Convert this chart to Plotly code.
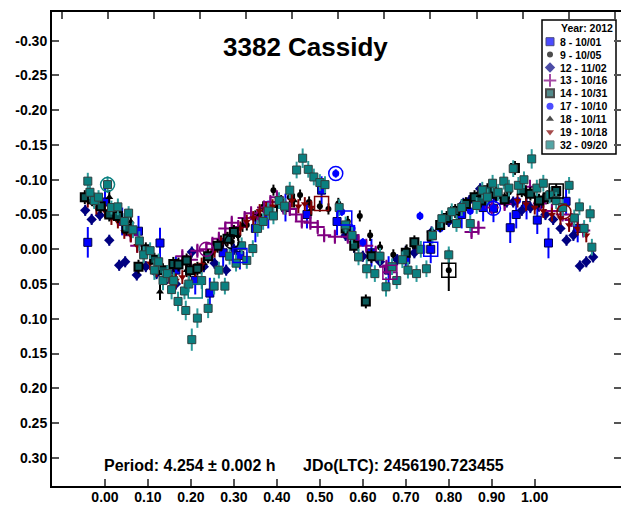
import plotly.graph_objects as go

# ---------------- DATA ----------------
title_text = "3382 Cassidy"
period_text = "Period: 4.254 ± 0.002 h"
epoch_text = "JDo(LTC): 2456190.723455"
legend_title = "Year: 2012"

xtick_vals = [0.0, 0.1, 0.2, 0.3, 0.4, 0.5, 0.6, 0.7, 0.8, 0.9, 1.0]
xtick_text = ["0.00", "0.10", "0.20", "0.30", "0.40", "0.50", "0.60", "0.70", "0.80", "0.90", "1.00"]
ytick_vals = [-0.30, -0.25, -0.20, -0.15, -0.10, -0.05, 0.0, 0.05, 0.10, 0.15, 0.20, 0.25, 0.30]
ytick_text = ["-0.30", "-0.25", "-0.20", "-0.15", "-0.10", "-0.05", "0.00", "0.05", "0.10", "0.15", "0.20", "0.25", "0.30"]

series_names = ["8 - 10/01", "9 - 10/05", "12 - 11/02", "13 - 10/16", "14 - 10/31",
                "17 - 10/10", "18 - 10/11", "19 - 10/18", "32 - 09/20"]

# session 8 (blue squares)
s8_phase = [-0.040, 0.000, 0.040, 0.078, 0.128, 0.165, 0.210, 0.244, 0.275, 0.314, 0.350, 0.380, 0.420,
            0.470, 0.504, 0.540, 0.580, 0.620, 0.660, 0.700, 0.758, 0.830, 0.880, 0.904, 0.943, 0.957,
            0.981, 1.006, 1.032, 1.073, 1.100]
s8_mag = [-0.010, -0.068, -0.040, -0.026, -0.009, 0.030, 0.045, 0.063, 0.005, 0.009, -0.030, -0.050, -0.060,
          -0.050, -0.085, -0.040, -0.015, 0.005, 0.030, 0.015, 0.000, -0.050, -0.060, -0.059, -0.031, -0.050,
          -0.063, -0.042, -0.009, -0.069, -0.030]
s8_err = [0.022, 0.020, 0.020, 0.022, 0.022, 0.020, 0.020, 0.022, 0.020, 0.020, 0.020, 0.020, 0.020,
          0.020, 0.020, 0.020, 0.020, 0.020, 0.020, 0.020, 0.020, 0.020, 0.020, 0.020, 0.022, 0.020,
          0.020, 0.020, 0.022, 0.020, 0.020]

# session 9 (black dots)
s9_phase = [0.250, 0.270, 0.295, 0.310, 0.330, 0.350, 0.368, 0.392, 0.410, 0.430, 0.454, 0.475, 0.500,
            0.520, 0.543, 0.565, 0.593, 0.617, 0.640, 0.671, 0.702, 0.721, 0.756, 0.800, 0.830, 0.870,
            0.900, 0.940, 0.980, 1.020]
s9_mag = [0.005, -0.005, -0.011, -0.020, -0.035, -0.048, -0.061, -0.085, -0.070, -0.075, -0.078, -0.068, -0.062,
          -0.058, -0.066, -0.040, -0.048, -0.020, -0.003, 0.008, 0.001, -0.003, -0.013, 0.030, -0.060, -0.080,
          -0.085, -0.082, -0.080, -0.070]
s9_err = [0.008, 0.008, 0.008, 0.008, 0.008, 0.008, 0.008, 0.008, 0.008, 0.008, 0.008, 0.008, 0.008,
          0.008, 0.008, 0.008, 0.008, 0.008, 0.008, 0.008, 0.008, 0.008, 0.008, 0.030, 0.010, 0.010,
          0.010, 0.010, 0.010, 0.010]

# session 12 (navy diamonds)
s12_phase = [-0.046, -0.031, -0.012, 0.010, 0.033, 0.047, 0.074, 0.095, 0.120, 0.145, 0.165, 0.202, 0.230,
             0.255, 0.282, 0.300, 0.560, 0.600, 0.640, 0.680, 0.720, 0.760, 0.800, 0.834, 0.848, 0.873,
             0.890, 0.910, 0.935, 0.950, 0.970, 0.990, 1.010, 1.025, 1.043, 1.060, 1.074, 1.090, 1.105,
             1.120, 1.136]
s12_mag = [-0.056, -0.043, -0.049, -0.013, 0.023, 0.018, 0.037, 0.025, 0.035, 0.042, 0.050, 0.004, 0.025,
           0.020, 0.030, 0.000, -0.020, 0.010, 0.018, 0.015, 0.005, -0.025, -0.040, -0.066, -0.070, -0.087,
           -0.070, -0.075, -0.068, -0.068, -0.056, -0.060, -0.062, -0.050, -0.043, -0.030, -0.013, -0.020, 0.024,
           0.018, 0.011]
s12_err = [0.008, 0.008, 0.008, 0.008, 0.008, 0.008, 0.008, 0.008, 0.008, 0.008, 0.008, 0.008, 0.008,
           0.008, 0.008, 0.008, 0.008, 0.008, 0.008, 0.008, 0.008, 0.008, 0.008, 0.008, 0.008, 0.008,
           0.008, 0.008, 0.008, 0.008, 0.008, 0.008, 0.008, 0.008, 0.008, 0.008, 0.008, 0.008, 0.008,
           0.008, 0.008]

# session 13 (purple crosses)
s13_phase = [0.030, 0.045, 0.060, 0.075, 0.180, 0.200, 0.215, 0.236, 0.250, 0.265, 0.280, 0.295, 0.310,
             0.325, 0.340, 0.355, 0.370, 0.385, 0.400, 0.415, 0.430, 0.445, 0.458, 0.478, 0.495, 0.510,
             0.535, 0.565, 0.590, 0.608, 0.630, 0.655, 0.663, 0.853, 0.869, 0.900, 0.930, 0.989, 1.012,
             1.040, 1.065, 1.086, 1.113]
s13_mag = [-0.045, -0.035, -0.020, -0.005, 0.010, 0.015, 0.002, 0.000, -0.008, -0.015, -0.030, -0.038, -0.032,
           -0.045, -0.052, -0.048, -0.060, -0.068, -0.075, -0.060, -0.058, -0.050, -0.040, -0.038, -0.032, -0.020,
           -0.018, -0.018, -0.012, -0.005, 0.005, 0.025, 0.033, -0.025, -0.031, -0.060, -0.065, -0.090, -0.066,
           -0.055, -0.050, -0.042, -0.027]
s13_err = [0.008, 0.008, 0.008, 0.008, 0.008, 0.008, 0.008, 0.008, 0.008, 0.008, 0.008, 0.008, 0.008,
           0.008, 0.008, 0.008, 0.008, 0.008, 0.008, 0.008, 0.008, 0.008, 0.008, 0.008, 0.008, 0.008,
           0.008, 0.008, 0.008, 0.008, 0.008, 0.008, 0.008, 0.008, 0.008, 0.008, 0.008, 0.008, 0.008,
           0.008, 0.008, 0.008, 0.008]

# session 14 (black-edged squares)
s14_phase = [-0.047, -0.030, -0.010, 0.010, 0.030, 0.050, 0.078, 0.095, 0.115, 0.135, 0.159, 0.171, 0.190,
             0.198, 0.215, 0.240, 0.262, 0.285, 0.300, 0.560, 0.580, 0.607, 0.620, 0.700, 0.720, 0.760,
             0.780, 0.795, 0.815, 0.840, 0.860, 0.875, 0.890, 0.910, 0.930, 0.954, 0.970, 0.990, 1.010,
             1.030, 1.050]
s14_mag = [-0.075, -0.072, -0.062, -0.050, -0.048, -0.030, 0.025, 0.000, 0.015, 0.030, 0.021, 0.022, 0.016,
           0.030, 0.028, 0.010, -0.005, -0.015, -0.025, -0.030, -0.005, 0.075, 0.010, 0.005, -0.010, -0.020,
           -0.035, -0.045, -0.055, -0.065, -0.075, -0.070, -0.085, -0.080, -0.072, -0.117, -0.085, -0.080, -0.070,
           -0.075, -0.084]
s14_err = [0.010, 0.010, 0.010, 0.010, 0.010, 0.010, 0.010, 0.010, 0.010, 0.010, 0.010, 0.010, 0.010,
           0.010, 0.010, 0.010, 0.010, 0.010, 0.010, 0.010, 0.010, 0.010, 0.010, 0.010, 0.010, 0.010,
           0.010, 0.010, 0.010, 0.010, 0.010, 0.010, 0.010, 0.010, 0.010, 0.010, 0.010, 0.010, 0.010,
           0.010, 0.010]

# session 17 (blue dots)
s17_phase = [0.537, 0.551, 0.575, 0.600, 0.640, 0.733, 0.780, 0.850, 0.904, 0.960]
s17_mag = [-0.109, -0.054, -0.030, -0.010, 0.010, -0.048, -0.030, -0.055, -0.059, -0.070]
s17_err = [0.006, 0.006, 0.006, 0.006, 0.006, 0.006, 0.006, 0.006, 0.006, 0.006]

# session 18 (black triangles)
s18_phase = [0.010, 0.060, 0.128, 0.160, 0.190, 0.230, 0.270, 0.320, 0.360, 0.400, 0.440, 0.480]
s18_mag = [-0.075, -0.040, 0.061, 0.040, 0.030, 0.020, -0.010, -0.035, -0.050, -0.062, -0.070, -0.058]
s18_err = [0.010, 0.010, 0.012, 0.010, 0.010, 0.010, 0.010, 0.010, 0.010, 0.010, 0.010, 0.010]

# session 19 (dark red triangles)
s19_phase = [-0.040, -0.020, 0.000, 0.015, 0.030, 0.045, 0.060, 0.075, 0.090, 0.105, 0.120, 0.135, 0.150,
             0.165, 0.180, 0.195, 0.210, 0.225, 0.240, 0.255, 0.270, 0.285, 0.300, 0.315, 0.330, 0.345,
             0.360, 0.375, 0.390, 0.405, 0.420, 0.435, 0.450, 0.465, 0.480, 0.960, 0.980, 1.000, 1.020,
             1.040, 1.060, 1.080, 1.100, 1.120]
s19_mag = [-0.070, -0.060, -0.055, -0.045, -0.040, -0.025, -0.020, -0.005, 0.010, 0.020, 0.030, 0.035, 0.040,
           0.045, 0.040, 0.035, 0.030, 0.022, 0.010, 0.002, -0.008, -0.015, -0.025, -0.030, -0.040, -0.045,
           -0.055, -0.058, -0.062, -0.068, -0.060, -0.070, -0.062, -0.065, -0.060, -0.070, -0.065, -0.060, -0.055,
           -0.050, -0.045, -0.035, -0.030, -0.020]
s19_err = [0.010, 0.010, 0.010, 0.010, 0.010, 0.010, 0.010, 0.010, 0.010, 0.010, 0.010, 0.010, 0.010,
           0.010, 0.010, 0.010, 0.010, 0.010, 0.010, 0.010, 0.010, 0.010, 0.010, 0.010, 0.010, 0.010,
           0.010, 0.010, 0.010, 0.010, 0.010, 0.010, 0.010, 0.010, 0.010, 0.010, 0.010, 0.010, 0.010,
           0.010, 0.010, 0.010, 0.010, 0.010]

# session 32 (teal squares)
s32_phase = [-0.040, -0.035, -0.025, -0.015, 0.006, 0.015, 0.030, 0.045, 0.055, 0.065, 0.080, 0.090, 0.105,
             0.115, 0.125, 0.135, 0.145, 0.155, 0.160, 0.170, 0.185, 0.188, 0.195, 0.202, 0.215, 0.225,
             0.240, 0.254, 0.265, 0.279, 0.290, 0.305, 0.318, 0.330, 0.344, 0.355, 0.368, 0.380, 0.392,
             0.405, 0.418, 0.430, 0.446, 0.460, 0.473, 0.486, 0.500, 0.512, 0.545, 0.560, 0.575, 0.590,
             0.609, 0.628, 0.640, 0.654, 0.668, 0.679, 0.692, 0.705, 0.725, 0.735, 0.748, 0.762, 0.784,
             0.800, 0.807, 0.818, 0.830, 0.850, 0.865, 0.878, 0.890, 0.902, 0.915, 0.928, 0.940, 0.950,
             0.962, 0.975, 0.993, 1.005, 1.020, 1.035, 1.050, 1.065, 1.080, 1.092, 1.104, 1.115, 1.129,
             1.133]
s32_mag = [-0.098, -0.082, -0.070, -0.075, -0.093, -0.060, -0.061, -0.040, -0.052, -0.028, -0.012, 0.008, 0.002,
           0.030, 0.018, 0.045, 0.035, 0.058, 0.045, 0.075, 0.060, 0.088, 0.050, 0.130, 0.099, 0.045,
           0.085, 0.053, 0.030, 0.053, 0.010, 0.020, -0.005, 0.016, -0.001, -0.030, -0.040, -0.055, -0.048,
           -0.070, -0.062, -0.085, -0.114, -0.131, -0.115, -0.104, -0.096, -0.093, -0.060, -0.035, -0.020, 0.011,
           0.028, 0.035, 0.010, 0.054, 0.025, 0.045, 0.015, 0.030, 0.035, 0.000, 0.028, -0.020, -0.044,
           0.008, -0.054, -0.037, -0.060, -0.037, -0.063, -0.085, -0.075, -0.095, -0.082, -0.098, -0.088, -0.116,
           -0.092, -0.100, -0.130, -0.088, -0.095, -0.078, -0.070, -0.060, -0.092, -0.045, -0.061, -0.030, -0.051,
           -0.003]
s32_err = [0.012, 0.010, 0.012, 0.010, 0.012, 0.010, 0.012, 0.012, 0.010, 0.012, 0.014, 0.012, 0.012,
           0.014, 0.012, 0.014, 0.012, 0.014, 0.012, 0.014, 0.012, 0.014, 0.012, 0.016, 0.014, 0.012,
           0.014, 0.012, 0.012, 0.012, 0.012, 0.012, 0.012, 0.012, 0.012, 0.012, 0.012, 0.012, 0.012,
           0.012, 0.012, 0.012, 0.012, 0.014, 0.012, 0.012, 0.012, 0.012, 0.012, 0.012, 0.012, 0.012,
           0.014, 0.012, 0.012, 0.014, 0.012, 0.012, 0.012, 0.012, 0.012, 0.012, 0.012, 0.012, 0.012,
           0.012, 0.012, 0.012, 0.012, 0.012, 0.012, 0.012, 0.012, 0.012, 0.012, 0.012, 0.012, 0.012,
           0.012, 0.012, 0.014, 0.012, 0.012, 0.012, 0.012, 0.012, 0.012, 0.012, 0.012, 0.012, 0.012,
           0.012]

# first / last point markers of sessions
ring_phase = [0.006, 0.236, 0.295, 0.537, 0.904, 1.068]
ring_mag = [-0.093, 0.000, -0.011, -0.109, -0.059, -0.054]
box_phase = [0.210, 0.314, 0.504, 0.558, 0.663, 0.758, 0.800, 1.050]
box_mag = [0.060, 0.009, -0.066, -0.045, 0.033, 0.000, 0.030, -0.084]

# ---------------- STYLE ----------------
FONT = "Liberation Sans, Arial, sans-serif"
TEAL = "#0b8080"
styles = {
    "8": dict(symbol="square", color="#0000ff", line="#00004a", lw=1, size=8, ecol="#0000ff"),
    "9": dict(symbol="circle", color="#000000", line="#000000", lw=0, size=6, ecol="#000000"),
    "12": dict(symbol="diamond", color="#000080", line="#000050", lw=0, size=8, ecol="#000080"),
    "13": dict(symbol="cross-thin", color="#800080", line="#800080", lw=2, size=10, ecol="#800080"),
    "14": dict(symbol="square", color="#0a5a5a", line="#000000", lw=2, size=8, ecol="#000000"),
    "17": dict(symbol="circle", color="#0000ff", line="#0000ff", lw=0, size=7, ecol="#0000ff"),
    "18": dict(symbol="triangle-up", color="#000000", line="#000000", lw=0, size=7, ecol="#000000"),
    "19": dict(symbol="triangle-down", color="#800000", line="#800000", lw=0, size=7, ecol="#800000"),
    "32": dict(symbol="square", color=TEAL, line="#2f3f3f", lw=1, size=8, ecol="#2a9a9a"),
}
ring_colors = [TEAL, "#800080", "#000000", "#0000ff", "#0000ff", "#800000"]
box_colors = [TEAL, "#0000ff", "#800000", "#0000ff", "#800080", "#0000ff", "#000000", "#000000"]

data = [
    ("8", s8_phase, s8_mag, s8_err),
    ("9", s9_phase, s9_mag, s9_err),
    ("12", s12_phase, s12_mag, s12_err),
    ("13", s13_phase, s13_mag, s13_err),
    ("17", s17_phase, s17_mag, s17_err),
    ("18", s18_phase, s18_mag, s18_err),
    ("19", s19_phase, s19_mag, s19_err),
    ("14", s14_phase, s14_mag, s14_err),
    ("32", s32_phase, s32_mag, s32_err),
]

fig = go.Figure()
for key, ph, mg, er in data:
    st = styles[key]
    fig.add_trace(go.Scatter(
        x=ph, y=mg, mode="markers", showlegend=False, hoverinfo="skip",
        error_y=dict(type="data", array=er, color=st["ecol"], thickness=2, width=0),
        marker=dict(symbol=st["symbol"], color=st["color"], size=st["size"],
                    line=dict(color=st["line"], width=st["lw"])),
    ))

fig.add_trace(go.Scatter(x=ring_phase, y=ring_mag, mode="markers", showlegend=False, hoverinfo="skip",
                         marker=dict(symbol="circle-open", size=14, color=ring_colors,
                                     line=dict(width=1.5, color=ring_colors))))
fig.add_trace(go.Scatter(x=box_phase, y=box_mag, mode="markers", showlegend=False, hoverinfo="skip",
                         marker=dict(symbol="square-open", size=14, color=box_colors,
                                     line=dict(width=1.5, color=box_colors))))
# dummy trace to activate top axis
fig.add_trace(go.Scatter(x=[None], y=[None], xaxis="x2", showlegend=False, hoverinfo="skip"))

# ---------------- LEGEND (drawn in a pixel-unit overlay) ----------------
leg_keys = ["8", "9", "12", "13", "14", "17", "18", "19", "32"]
leg_x0, leg_y0, leg_dy = 550, 41.7, 12.9
leg_y = [leg_y0 + leg_dy * i for i in range(len(leg_keys))]
fig.add_shape(type="rect", xref="x3", yref="y3", x0=542, x1=616, y0=20, y1=154,
              line=dict(color="black", width=1.5), fillcolor="white", layer="below")
fig.add_trace(go.Scatter(
    x=[leg_x0] * len(leg_keys), y=leg_y, xaxis="x3", yaxis="y3", mode="markers",
    showlegend=False, hoverinfo="skip",
    marker=dict(symbol=[styles[k]["symbol"] for k in leg_keys],
                color=[styles[k]["color"] for k in leg_keys],
                size=[8, 6, 8, 9, 8, 7, 7, 7, 8],
                line=dict(color=[styles[k]["line"] for k in leg_keys],
                          width=[1, 0, 0, 2, 2, 0, 0, 0, 1])),
))

annotations = []
for name, yy in zip(series_names, leg_y):
    annotations.append(dict(x=558, y=yy, xref="x3", yref="y3", text="<b>%s</b>" % name,
                            showarrow=False, xanchor="left", yanchor="middle",
                            font=dict(family=FONT, size=10.5, color="black")))
annotations.append(dict(x=559, y=27.5, xref="x3", yref="y3", text="<b>%s</b>" % legend_title,
                        showarrow=False, xanchor="left", yanchor="middle",
                        font=dict(family=FONT, size=10.5, color="black")))
annotations.append(dict(x=305, y=47, xref="x3", yref="y3", text="<b>%s</b>" % title_text,
                        showarrow=False, xanchor="center", yanchor="middle",
                        font=dict(family=FONT, size=26, color="black")))
annotations.append(dict(x=102, y=465, xref="x3", yref="y3", text="<b>%s</b>" % period_text,
                        showarrow=False, xanchor="left", yanchor="middle",
                        font=dict(family=FONT, size=16, color="black")))
annotations.append(dict(x=301, y=465, xref="x3", yref="y3", text="<b>%s</b>" % epoch_text,
                        showarrow=False, xanchor="left", yanchor="middle",
                        font=dict(family=FONT, size=16, color="black")))

XR = [-0.1233, 1.2008]
YR = [0.3405, -0.3413]
tickfont = dict(family=FONT, size=14, color="black", weight="bold")

fig.update_layout(
    width=621, height=506,
    margin=dict(l=52, r=0, t=12, b=20, autoexpand=False),
    paper_bgcolor="white", plot_bgcolor="white",
    showlegend=False,
    annotations=annotations,
    xaxis=dict(range=XR, tickvals=xtick_vals, ticktext=xtick_text, showgrid=False, zeroline=False,
               showline=True, linecolor="black", linewidth=2, ticks="inside", ticklen=7,
               tickwidth=1.5, tickcolor="#555555", tickfont=tickfont, fixedrange=True,
               automargin=False, ticklabelstandoff=-3),
    xaxis2=dict(range=XR, overlaying="x", side="top", anchor="y", showgrid=False, zeroline=False,
                showline=True, linecolor="black", linewidth=2, ticks="inside", ticklen=7,
                tickwidth=1.5, tickcolor="#555555", showticklabels=False,
                tickmode="linear", tick0=0.0063, dtick=0.1073, fixedrange=True, automargin=False),
    yaxis=dict(range=YR, tickvals=ytick_vals, ticktext=ytick_text, showgrid=False, zeroline=False,
               showline=True, linecolor="black", linewidth=2, ticks="inside", ticklen=7,
               tickwidth=1.5, tickcolor="#555555", tickfont=tickfont, mirror="ticks",
               fixedrange=True, automargin=False),
    xaxis3=dict(range=[52, 621], overlaying="x", anchor="y3", visible=False, fixedrange=True,
                automargin=False),
    yaxis3=dict(range=[486, 12], overlaying="y", anchor="x3", visible=False, fixedrange=True,
                automargin=False),
)

fig.write_html("out.html", config={"displayModeBar": False},
               post_script="document.body.style.margin='0';document.body.style.padding='0';")
